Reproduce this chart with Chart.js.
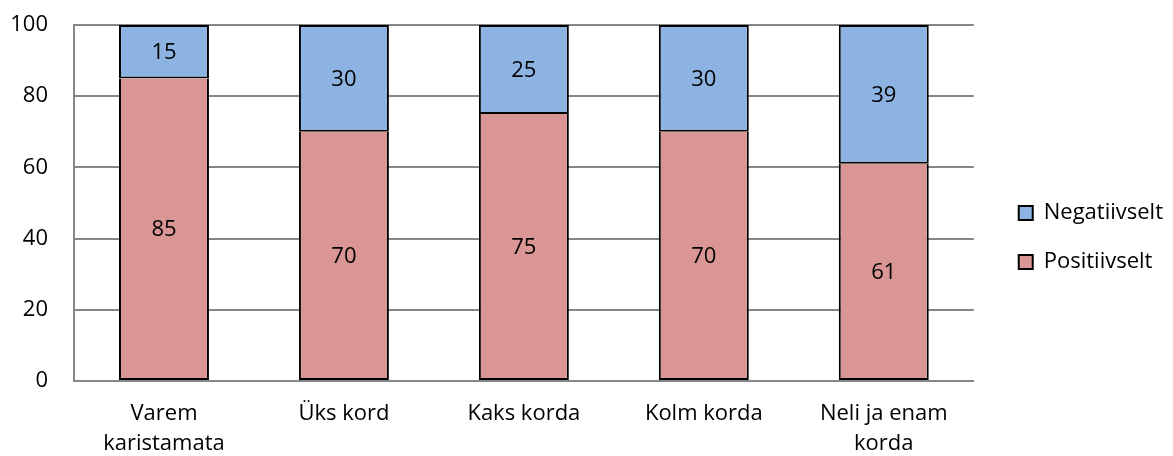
<!DOCTYPE html>
<html>
<head>
<meta charset="utf-8">
<script src="https://cdn.jsdelivr.net/npm/chart.js@4"></script>
<style>
  html, body { margin: 0; padding: 0; background: #fff; }
  #wrap { width: 1173px; height: 456px; position: relative; }
</style>
</head>
<body>
<div id="wrap"><canvas id="chart"></canvas></div>
<script>
// --- Data ---
const categories = [['Varem', 'karistamata'], 'Üks kord', 'Kaks korda', 'Kolm korda', ['Neli ja enam', 'korda']];
const positive = [85, 70, 75, 70, 61];
const negative = [15, 30, 25, 30, 39];
const yTicks = [0, 20, 40, 60, 80, 100];

const FONT = "'Open Sans', 'Liberation Sans', sans-serif";
const SIZE = 22;

// draws value labels in the middle of each bar segment
const barLabels = {
  id: 'barLabels',
  afterDatasetsDraw(chart) {
    const { ctx } = chart;
    ctx.save();
    ctx.font = `${SIZE}px ${FONT}`;
    ctx.fillStyle = '#000';
    ctx.textAlign = 'center';
    ctx.textBaseline = 'middle';
    chart.data.datasets.forEach((ds, i) => {
      chart.getDatasetMeta(i).data.forEach((bar, j) => {
        const mid = (bar.y + bar.base) / 2;
        ctx.fillText(ds.data[j], bar.x, mid + 1);
      });
    });
    ctx.restore();
  }
};

new Chart(document.getElementById('chart'), {
  type: 'bar',
  data: {
    labels: categories,
    datasets: [
      { label: 'Positiivselt', data: positive, backgroundColor: '#d99694', borderColor: '#000', borderWidth: 2, borderSkipped: 'top' },
      { label: 'Negatiivselt', data: negative, backgroundColor: '#8db3e2', borderColor: '#000', borderWidth: 2, borderSkipped: false }
    ]
  },
  options: {
    responsive: true,
    maintainAspectRatio: false,
    animation: false,
    layout: { padding: { top: 0, right: 0, left: 8, bottom: 0 } },
    datasets: { bar: { categoryPercentage: 1, barPercentage: 0.5 } },
    plugins: {
      legend: {
        position: 'right',
        reverse: true,
        // empty title only nudges the items down a little
        title: { display: true, text: ' ', font: { size: 1 }, padding: 9 },
        labels: {
          font: { family: FONT, size: SIZE },
          color: '#000',
          boxWidth: 14,
          boxHeight: 14,
          padding: 27,
          useBorderRadius: false
        }
      },
      tooltip: { enabled: false }
    },
    scales: {
      x: {
        stacked: true,
        grid: { display: false, drawTicks: false },
        border: { color: '#868686', width: 2 },
        ticks: { font: { family: FONT, size: SIZE, lineHeight: 1.35 }, color: '#000', padding: 18, maxRotation: 0 },
        afterFit: s => { s.height = 75; }
      },
      y: {
        stacked: true,
        min: 0,
        max: 100,
        afterBuildTicks: axis => { axis.ticks = yTicks.map(v => ({ value: v })); },
        grid: { color: '#868686', lineWidth: 2, drawTicks: false },
        border: { color: '#868686', width: 2 },
        ticks: { font: { family: FONT, size: SIZE }, color: '#000', padding: 26 },
        afterFit: s => { s.width = 66; s.paddingTop = 25; s.paddingBottom = 20; }
      },
      // empty spacer between plot and legend
      gap: {
        position: 'right',
        display: true,
        grid: { display: false, drawTicks: false },
        border: { display: false },
        ticks: { display: false },
        afterFit: s => { s.width = 18; }
      }
    }
  },
  plugins: [barLabels]
});
</script>
</body>
</html>
